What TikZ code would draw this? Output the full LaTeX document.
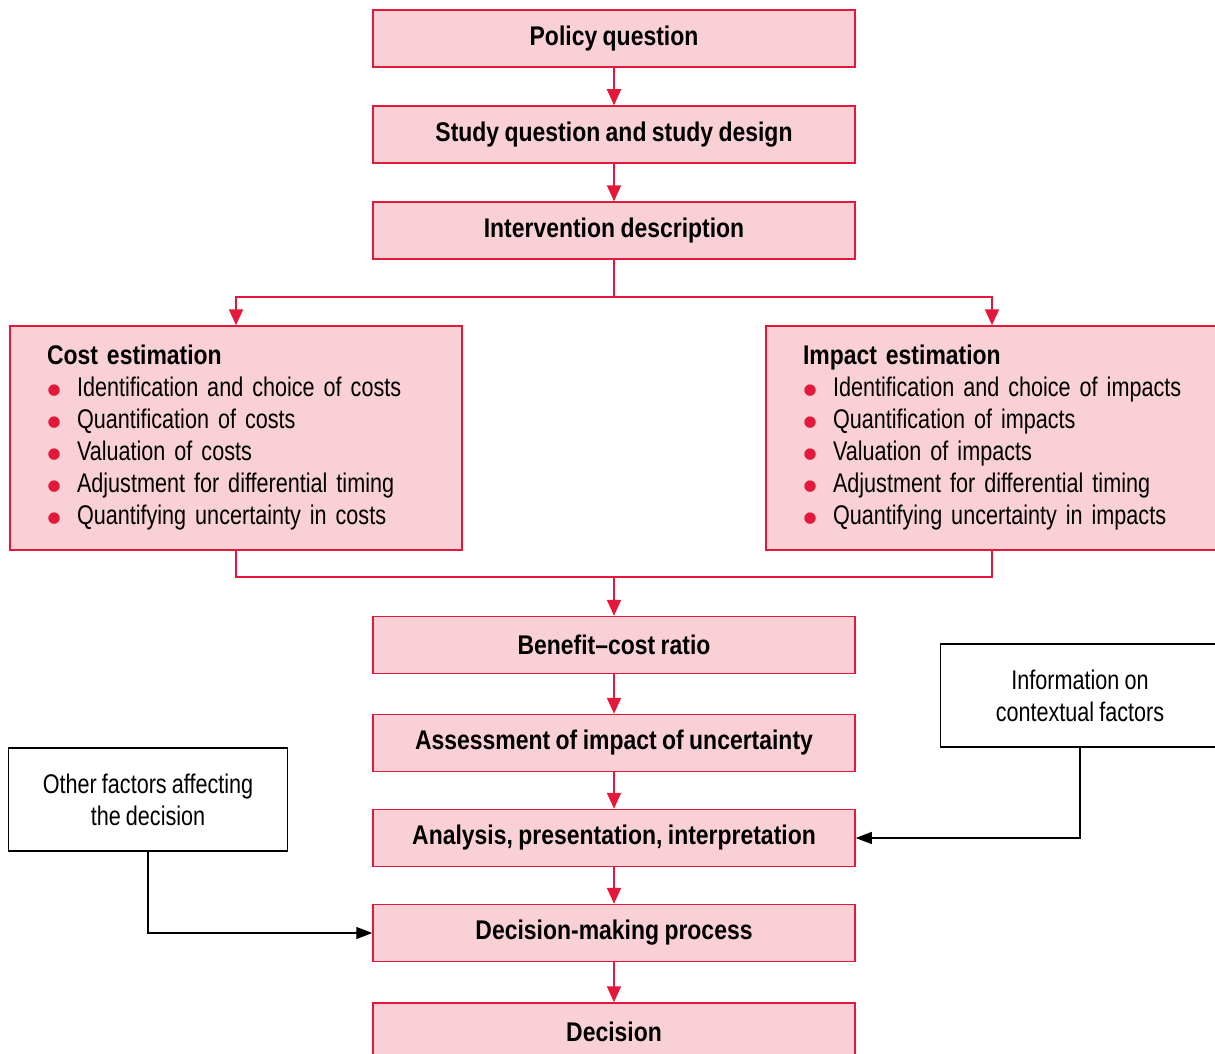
\documentclass[tikz,border=0pt]{standalone}
\usepackage{fontspec}
\setmainfont[UprightFeatures={FakeStretch=0.8},BoldFeatures={FakeStretch=0.85},WordSpace=0.85]{Liberation Sans}
\newfontfamily\symfont{DejaVu Sans}
\usetikzlibrary{arrows.meta,calc}
\definecolor{accent}{RGB}{228,24,58}
\definecolor{boxfill}{RGB}{249,208,214}
\newcommand{\redbullet}{\makebox[30pt][l]{\hspace{0.5pt}\raisebox{2.3pt}{\textcolor{accent}{\symfont\fontsize{15}{15}\selectfont ●}}}}
% one bulleted line that never wraps
\newcommand{\listitem}[1]{\mbox{\redbullet #1}}
\begin{document}
\begin{tikzpicture}[x=1pt,y=-1pt,
  font=\fontsize{27}{32}\selectfont,
  stagebox/.style={draw=accent,fill=boxfill,line width=1.5pt,minimum width=482pt,minimum height=57pt,inner sep=0pt,font=\fontsize{27}{32}\selectfont\bfseries},
  listbox/.style={draw=accent,fill=boxfill,line width=1.5pt,minimum width=452pt,minimum height=224pt,text width=378pt,align=left,inner sep=0pt},
  notebox/.style={draw=black,fill=white,line width=1.2pt,minimum width=279pt,minimum height=103pt,align=center,inner sep=0pt},
  redline/.style={draw=accent,line width=2pt},
  redarr/.style={redline,-{Triangle[width=14pt,length=16pt]}},
  blkarr/.style={draw=black,line width=1.2pt,-{Triangle[width=12pt,length=16pt]}}]
\clip (0,0) rectangle (1215,1054);
\fill[white] (0,0) rectangle (1215,1054);

% main stages
\node[stagebox] (policy)   at (614,38.5)  {Policy question};
\node[stagebox] (study)    at (614,134.5) {Study question and study design};
\node[stagebox] (interv)   at (614,230.5) {Intervention description};
\node[stagebox] (benefit)  at (614,645)   {Benefit--cost ratio};
\node[stagebox] (assess)   at (614,743)   {Assessment of impact of uncertainty};
\node[stagebox] (analysis) at (614,838)   {Analysis, presentation, interpretation};
\node[stagebox] (dmp)      at (614,933)   {Decision-making process};
\node[stagebox] (decision) at (614,1031.5){Decision};

% estimation boxes
\node[listbox] (cost) at (236,438) {\textbf{Cost estimation}\\
\listitem{Identification and choice of costs}\\
\listitem{Quantification of costs}\\
\listitem{Valuation of costs}\\
\listitem{Adjustment for differential timing}\\
\listitem{Quantifying uncertainty in costs}};
\node[listbox] (impact) at (992,438) {\textbf{Impact estimation}\\
\listitem{Identification and choice of impacts}\\
\listitem{Quantification of impacts}\\
\listitem{Valuation of impacts}\\
\listitem{Adjustment for differential timing}\\
\listitem{Quantifying uncertainty in impacts}};

% external inputs
\node[notebox] (info)  at (1080,695.5) {Information on\\contextual factors};
\node[notebox] (other) at (148,799.5)  {Other factors affecting\\the decision};

% connectors
\draw[redarr] (policy) -- (study);
\draw[redarr] (study) -- (interv);
\coordinate (fork) at (614,297);
\coordinate (join) at (614,577);
\draw[redline] (interv.south) -- (fork);
\draw[redarr] (fork) -| (cost.north);
\draw[redarr] (fork) -| (impact.north);
\draw[redline] (cost.south) |- (join);
\draw[redline] (impact.south) |- (join);
\draw[redarr] (join) -- (benefit);
\draw[redarr] (benefit) -- (assess);
\draw[redarr] (assess) -- (analysis);
\draw[redarr] (analysis) -- (dmp);
\draw[redarr] (dmp) -- (decision);
\draw[blkarr] (info.south) |- (analysis.east);
\draw[blkarr] (other.south) |- (dmp.west);
\end{tikzpicture}
\end{document}
